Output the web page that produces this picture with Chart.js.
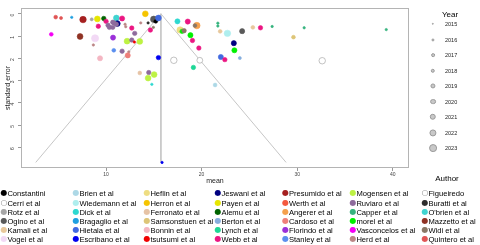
<!DOCTYPE html>
<html><head><meta charset="utf-8">
<script src="https://cdn.jsdelivr.net/npm/chart.js@4/dist/chart.umd.min.js"></script>
<style>
html,body{margin:0;padding:0;background:#fff;overflow:hidden}
#wrap{position:relative;width:480px;height:245px;font-family:"Liberation Sans",Arial,sans-serif}
#c{position:absolute;left:0;top:0}
.t{position:absolute;white-space:nowrap;color:#000}
.mk{position:absolute;font-family:"DejaVu Sans",sans-serif;font-size:8px;line-height:8px;transform:translate(-50%,-50%)}
.nm{position:absolute;font-size:7.6px;line-height:9px;transform:translateY(-50%);white-space:nowrap}
.yc{position:absolute;border-radius:50%;background:#c8c8c8;border:0.6px solid #9a9a9a;box-sizing:border-box;transform:translate(-50%,-50%)}
.yl{position:absolute;font-size:5.5px;line-height:6px;transform:translateY(-50%);color:#222}
</style></head>
<body><div id="wrap"><canvas id="c" width="480" height="245"></canvas></div>
<script>
// ---- data ----
const authorNames = [
 "Constantini","Cerri et al","Rotz et al","Ogino et al","Kamali et al","Vogel et al",
 "Brien et al","Wiedemann et al","Dick et al","Bragaglio et al","Hietala et al","Escribano et al",
 "Heflin et al","Herron et al","Ferronato et al","Samsonstuen et al","Bonnin et al","tsutsumi et al",
 "Jeswani et al","Payen et al","Alemu et al","Berton et al","Lynch et al","Webb et al",
 "Presumido et al","Werth et al","Angerer et al","Cardoso et al","Florindo et al","Stanley et al",
 "Mogensen et al","Ruviaro et al","Capper et al","morel et al","Vasconcelos et al","Herd et al",
 "Figueiredo","Buratti et al","O'brien et al","Mazzetto et al","Widi et al","Quintero et al"];
const authorColors = [
 "#000000","#FFFFFF","#A6A6A6","#595959","#E8C89C","#F2D9F5",
 "#ADD8E6","#AFEEEE","#2ED8D0","#1E9FE0","#4169E1","#0000F0",
 "#EEDD82","#F5C400","#E6C3A5","#DDC577","#F4B6C2","#F00000",
 "#000080","#E6E600","#006400","#87AEDE","#1ED796","#EB1682",
 "#A52020","#F45A40","#F5A04C","#EE7F7A","#9B30D9","#5B8FEF",
 "#BDF243","#8E6B9C","#36B37E","#00F000","#F500F5","#BC8686",
 "#FFFFFF","#2E2E2E","#40D4D0","#8F3224","#8A7866","#E05555"];
const yearLabels = [2015,2016,2017,2018,2019,2020,2021,2022,2023];
const xTickValues = [10,20,30,40];
const yTickValues = [0,1,2,3,4,5,6];

const pointMean = [4.73,5.29,6.41,7.59,8.50,9.09,9.76,10.0,11.08,11.68,11.18,10.7,10.21,10.7,10.35,11.08,10.84,9.19,11.99,12.06,12.69,14.11,14.99,15.2,15.48,14.4,14.64,13.63,14.95,4.27,7.28,8.85,8.67,10.73,12.2,12.69,13.53,12.96,13.0,10.81,11.68,12.38,12.27,9.37,15.48,17.09,19.81,13.53,14.47,15.03,14.4,14.79,17.47,18.55,19.5,19.3,17.75,17.96,18.17,18.83,19.04,19.71,19.14,21.7,21.7,21.94,22.7,24.24,25.36,26.16,27.38,30.73,39.32,29.61,23.37,23.43,22.01,22.43,24.0,32.62,21.41,15.86];
const pointSE = [0.15,0.19,0.16,0.26,0.25,0.23,0.21,0.34,0.19,0.21,0.44,0.38,0.51,0.61,0.61,0.47,0.41,0.56,0.47,0.58,0.64,0.0,0.25,0.34,0.19,0.41,0.73,0.41,0.61,0.92,1.02,1.10,1.40,1.07,1.23,1.18,1.24,1.27,0.88,1.64,1.68,1.71,1.87,2.0,1.97,2.09,2.09,2.66,2.64,2.73,2.89,3.17,0.34,0.35,0.53,0.53,0.73,0.79,0.76,0.96,1.2,1.54,2.41,0.42,0.55,0.79,0.88,0.78,0.61,0.63,0.57,0.63,0.71,1.05,1.32,1.64,1.94,2.06,1.99,2.11,3.2,6.68];
const pointYear = [2017,2016,2015,2021,2016,2020,2018,2018,2020,2019,2020,2018,2018,2018,2018,2018,2018,2018,2015,2015,2018,2020,2021,2017,2020,2015,2018,2015,2015,2017,2020,2022,2015,2019,2020,2018,2020,2015,2018,2017,2018,2015,2019,2019,2018,2021,2020,2017,2018,2020,2020,2015,2019,2019,2021,2017,2021,2018,2018,2019,2018,2018,2018,2015,2015,2017,2021,2019,2017,2018,2015,2015,2015,2017,2019,2019,2019,2018,2016,2021,2017,2015];
const pointAuthor = ["Quintero et al","Quintero et al","Bragaglio et al","Presumido et al","Rotz et al","Payen et al","Alemu et al","Webb et al","O'brien et al","Webb et al","Jeswani et al","Ruviaro et al","Ruviaro et al","Ruviaro et al","Ruviaro et al","Ruviaro et al","Ruviaro et al","Webb et al","Herd et al","Herd et al","Webb et al","Herron et al","Ogino et al","Constantini","Hietala et al","Buratti et al","Webb et al","Herd et al","Widi et al","Vasconcelos et al","Mazzetto et al","Vogel et al","Herd et al","Florindo et al","Mogensen et al","Ruviaro et al","Mogensen et al","tsutsumi et al","Ruviaro et al","Stanley et al","Ruviaro et al","Herd et al","Cardoso et al","Bonnin et al","Escribano et al","Figueiredo","Cerri et al","Ferronato et al","Ruviaro et al","Mogensen et al","Mogensen et al","Dick et al","Dick et al","Webb et al","Angerer et al","Widi et al","Heflin et al","morel et al","Widi et al","morel et al","Webb et al","Webb et al","Lynch et al","Capper et al","Capper et al","Kamali et al","Wiedemann et al","Ogino et al","Kamali et al","Webb et al","Capper et al","Capper et al","Capper et al","Samsonstuen et al","Jeswani et al","morel et al","Hietala et al","Webb et al","Berton et al","Figueiredo","Brien et al","Escribano et al"];

const funnelMean = [2.64,15.74,28.84];
const funnelSE = [6.68,0,6.68];
const centerMean = [15.74,15.74];
const centerSE = [0,6.68];

// ---- helpers ----
function radiusForYear(y){ return 1.2 + 0.34*(y-2015); }
function colorOf(name){ return authorColors[authorNames.indexOf(name)]; }
function isHollow(c){ return c.toUpperCase()==="#FFFFFF"; }

const pts = pointMean.map((m,i)=>({x:m,y:pointSE[i]}));
const funnelPts = funnelMean.map((m,i)=>({x:m,y:funnelSE[i]}));
const centerPts = centerMean.map((m,i)=>({x:m,y:centerSE[i]}));

const boxPlugin = {id:'box', beforeDatasetsDraw(chart){
  const {ctx,chartArea:a}=chart; ctx.save(); ctx.strokeStyle='#b4b4b4'; ctx.lineWidth=1;
  ctx.strokeRect(a.left+0.5,a.top+0.5,a.right-a.left-1,a.bottom-a.top-1); ctx.restore();}};

new Chart(document.getElementById('c'),{
  type:'scatter',
  data:{datasets:[
    {type:'scatter',data:pts,order:0,
     pointBackgroundColor:c=>colorOf(pointAuthor[c.dataIndex]),
     pointBorderColor:c=>{const col=colorOf(pointAuthor[c.dataIndex]);return isHollow(col)?'#9a9a9a':col;},
     pointBorderWidth:0.6,
     pointRadius:c=>radiusForYear(pointYear[c.dataIndex])},
    {type:'line',data:funnelPts,order:2,borderColor:'#c6c6c6',borderWidth:1,pointRadius:0,fill:false,tension:0},
    {type:'line',data:centerPts,order:2,borderColor:'#c6c6c6',borderWidth:1,pointRadius:0,fill:false,tension:0}
  ]},
  options:{
    responsive:false,animation:false,devicePixelRatio:1,
    layout:{padding:{left:0,right:71,top:4,bottom:60}},
    plugins:{legend:{display:false},tooltip:{enabled:false}},
    scales:{
      x:{type:'linear',min:1.1,max:41.7,
         afterBuildTicks:s=>{s.ticks=xTickValues.map(v=>({value:v}));},
         afterFit:s=>{s.height=17;},
         grid:{display:true,drawOnChartArea:false,drawTicks:true,tickLength:3,color:'#999'},
         border:{display:false},
         ticks:{font:{size:5,family:'Liberation Sans, Arial'},color:'#444',padding:1,maxRotation:0,minRotation:0},
         title:{display:true,text:'mean',font:{size:7,family:'Liberation Sans, Arial'},color:'#222',padding:0}},
      y:{type:'linear',reverse:true,min:-0.26,max:6.93,
         afterBuildTicks:s=>{s.ticks=yTickValues.map(v=>({value:v}));},
         afterFit:s=>{s.width=21;},
         grid:{display:true,drawOnChartArea:false,drawTicks:true,tickLength:3,color:'#999'},
         border:{display:false},
         ticks:{font:{size:5,family:'Liberation Sans, Arial'},color:'#444',padding:5,minRotation:90,maxRotation:90},
         title:{display:true,text:'standard error',font:{size:7,family:'Liberation Sans, Arial'},color:'#222',padding:{top:4,bottom:0}}}
    }
  },
  plugins:[boxPlugin]
});

// ---- legends (HTML text) ----
const wrap=document.getElementById('wrap');
function add(cls,x,y,html,style){const d=document.createElement('div');d.className=cls;d.style.left=x+'px';d.style.top=y+'px';if(style)Object.assign(d.style,style);d.innerHTML=html;wrap.appendChild(d);return d;}
// Year legend
add('t',450,14,'Year',{fontSize:'8px',transform:'translate(-50%,-50%)'});
yearLabels.forEach((yr,i)=>{
  const cy=24+15.5*i; const r=radiusForYear(yr);
  add('yc',433,cy,'',{width:(2*r)+'px',height:(2*r)+'px'});
  add('yl',445,cy,String(yr));
});
// Author legend
add('t',447,178,'Author',{fontSize:'8px',transform:'translate(-50%,-50%)'});
const colMarkX=[4,76,147,218,285.5,353,425];
const rowY=[193.3,202.5,211.7,220.8,230,239.1];
authorNames.forEach((n,i)=>{
  const col=Math.floor(i/6), row=i%6; const c=authorColors[i];
  const hollow=isHollow(c);
  add('mk',colMarkX[col],rowY[row],hollow?'\u25CB':'\u25CF',{color:hollow?'#8a8a8a':c});
  add('nm',colMarkX[col]+3.4,rowY[row],n);
});
</script></body></html>
